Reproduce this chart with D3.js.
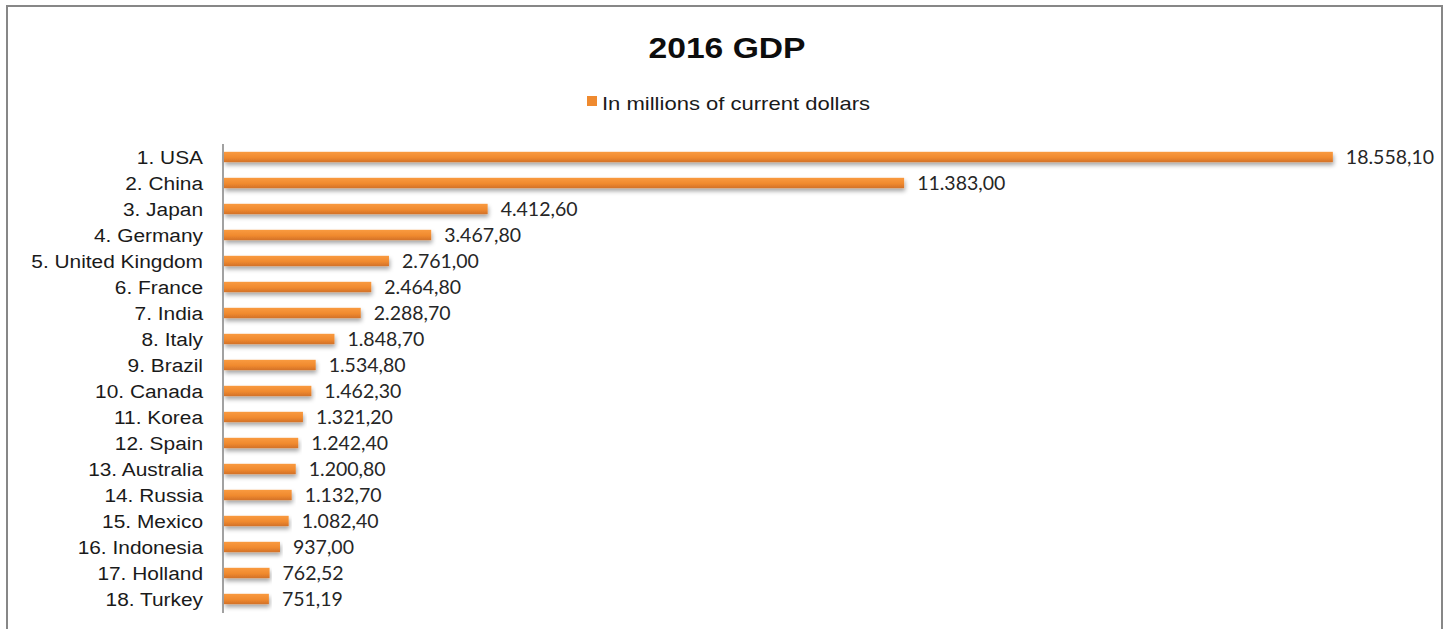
<!DOCTYPE html>
<html>
<head>
<meta charset="utf-8">
<script src="https://cdn.jsdelivr.net/npm/d3@7"></script>
<style>
  html, body { margin: 0; padding: 0; background: #fff; }
  svg { display: block; }
</style>
</head>
<body>
<svg id="chart" width="1448" height="629"></svg>
<script>
// 2016 GDP ranking, in millions of current dollars
const countries = [
  "1. USA", "2. China", "3. Japan", "4. Germany", "5. United Kingdom",
  "6. France", "7. India", "8. Italy", "9. Brazil", "10. Canada",
  "11. Korea", "12. Spain", "13. Australia", "14. Russia", "15. Mexico",
  "16. Indonesia", "17. Holland", "18. Turkey"
];
const gdp = [
  18558.10, 11383.00, 4412.60, 3467.80, 2761.00,
  2464.80, 2288.70, 1848.70, 1534.80, 1462.30,
  1321.20, 1242.40, 1200.80, 1132.70, 1082.40,
  937.00, 762.52, 751.19
];
const chartTitle = "2016 GDP";
const seriesName = "In millions of current dollars";

const rows = countries.map((c, i) => ({ country: c, value: gdp[i] }));

const svg = d3.select("#chart");
const W = 1448;
const textStretch = 1.16;

// European number format: 18.558,10
const euro = d3.formatLocale({ decimal: ",", thousands: ".", grouping: [3], currency: ["", ""] });
const fmt = euro.format(",.2f");

// Gradient and shadow for the bars
const defs = svg.append("defs");
const grad = defs.append("linearGradient")
  .attr("id", "barGrad").attr("x1", 0).attr("y1", 0).attr("x2", 0).attr("y2", 1);
grad.append("stop").attr("offset", "0%").attr("stop-color", "#f99a40");
grad.append("stop").attr("offset", "55%").attr("stop-color", "#f08a2e");
grad.append("stop").attr("offset", "100%").attr("stop-color", "#d2712a");

const shadow = defs.append("filter").attr("id", "barShadow")
  .attr("x", "-5%").attr("y", "-50%").attr("width", "110%").attr("height", "250%");
shadow.append("feDropShadow")
  .attr("dx", 1).attr("dy", 3).attr("stdDeviation", 2)
  .attr("flood-color", "#000").attr("flood-opacity", 0.35);

// Outer chart frame
svg.append("rect")
  .attr("x", 7).attr("y", 6).attr("width", 1435).attr("height", 660)
  .attr("fill", "#fff").attr("stroke", "#878787").attr("stroke-width", 2);

// Scales
const x = d3.scaleLinear().domain([0, 20000]).range([224, 1419]);
const y = d3.scaleBand()
  .domain(countries)
  .range([144, 612])
  .paddingInner(0.6)
  .paddingOuter(0.3);

// Title
svg.append("text")
  .attr("transform", `translate(${W / 2 + 3},58) scale(${textStretch},1)`)
  .attr("text-anchor", "middle")
  .style("font-family", "'Liberation Sans', Arial, sans-serif")
  .style("font-weight", "bold")
  .style("font-size", "29px")
  .attr("fill", "#0d0d0d")
  .text(chartTitle);

// Legend
const legend = svg.append("g");
legend.append("rect")
  .attr("x", 587).attr("y", 96).attr("width", 10).attr("height", 10)
  .attr("fill", "#ef8a2f");
legend.append("text")
  .attr("transform", `translate(602,110) scale(${textStretch},1)`)
  .style("font-family", "'Liberation Sans', Arial, sans-serif")
  .style("font-size", "19px")
  .attr("fill", "#1a1a1a")
  .text(seriesName);

// Bars
svg.append("g").selectAll("rect")
  .data(rows)
  .join("rect")
  .attr("x", x(0))
  .attr("y", d => y(d.country))
  .attr("width", d => x(d.value) - x(0))
  .attr("height", y.bandwidth())
  .attr("fill", "url(#barGrad)")
  .attr("filter", "url(#barShadow)");

// Category axis (labels only, with the vertical axis line)
const yAxis = d3.axisLeft(y).tickSize(0).tickPadding(0);
const axisG = svg.append("g")
  .attr("transform", `translate(${x(0) - 1},0)`)
  .call(yAxis);
axisG.select(".domain")
  .attr("d", `M0,144V613`)
  .attr("stroke", "#8a8a8a")
  .attr("stroke-width", 1.6);
axisG.selectAll(".tick text")
  .attr("x", null).attr("dy", null)
  .attr("transform", `translate(-20,6.5) scale(${textStretch},1)`)
  .attr("text-anchor", "end")
  .style("font-family", "'Liberation Sans', Arial, sans-serif")
  .style("font-size", "18px")
  .attr("fill", "#1a1a1a");

// Value labels
svg.append("g").selectAll("text")
  .data(rows)
  .join("text")
  .attr("x", d => x(d.value) + 13)
  .attr("y", d => y(d.country) + y.bandwidth() / 2)
  .attr("dy", "0.36em")
  .style("font-family", "Lato, 'Open Sans', sans-serif")
  .style("font-size", "19.5px")
  .attr("fill", "#262626")
  .text(d => fmt(d.value));
</script>
</body>
</html>
